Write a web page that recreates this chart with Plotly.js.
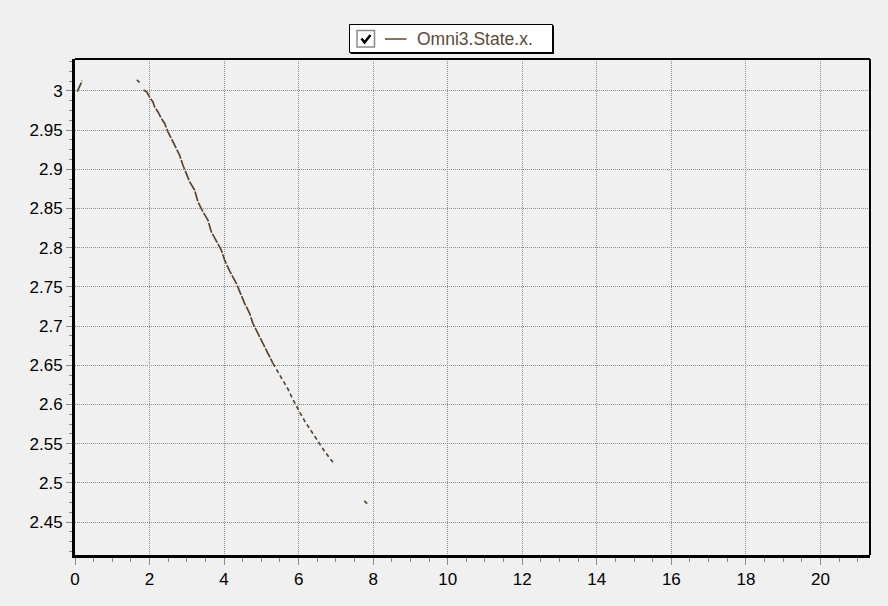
<!DOCTYPE html>
<html>
<head>
<meta charset="utf-8">
<script src="https://cdn.plot.ly/plotly-3.0.1.min.js"></script>
<style>
  html, body { margin: 0; padding: 0; background: #f0f0f0; }
  #chart { width: 888px; height: 606px; }
</style>
</head>
<body>
<div id="chart"></div>
<script>
// ---- data ----
const seriesName = "Omni3.State.x.";
const xValues = [
  0.059, 0.193, null,
  1.659, 1.732, null,
  1.839, 1.928, 2.019, 2.089, 2.134, 2.223, 2.314, 2.403, 2.491, 2.583,
  2.717, 2.805, 2.894, 3.028, 3.074, 3.208, 3.297, 3.431, 3.565, 3.656,
  3.791, 3.925, 4.013, 4.148, 4.328, 4.416, 4.550, 4.685, 4.773, 4.907,
  5.042, 5.176, 5.310, 5.444, 5.579, 5.713, 5.831, 5.919, 6.046, 6.161,
  6.277, 6.403, 6.537, 6.671, 6.805, 6.940, null,
  7.760, 7.860
];
const yValues = [
  2.9991, 3.0131, null,
  3.0140, 3.0111, null,
  3.0013, 2.9987, 2.9907, 2.9863, 2.9800, 2.9736, 2.9652, 2.9588, 2.9481, 2.9396,
  2.9269, 2.9183, 2.9056, 2.8906, 2.8843, 2.8737, 2.8587, 2.8460, 2.8354, 2.8204,
  2.8077, 2.7971, 2.7843, 2.7705, 2.7546, 2.7439, 2.7291, 2.7163, 2.7035, 2.6908,
  2.6780, 2.6653, 2.6525, 2.6418, 2.6299, 2.6197, 2.6078, 2.5993, 2.5887, 2.5790,
  2.5703, 2.5618, 2.5525, 2.5419, 2.5333, 2.5249, null,
  2.4770, 2.4725
];
const xTickVals = [0, 2, 4, 6, 8, 10, 12, 14, 16, 18, 20];
const xTickText = ["0", "2", "4", "6", "8", "10", "12", "14", "16", "18", "20"];
const yTickVals = [2.45, 2.5, 2.55, 2.6, 2.65, 2.7, 2.75, 2.8, 2.85, 2.9, 2.95, 3];
const yTickText = ["2.45", "2.5", "2.55", "2.6", "2.65", "2.7", "2.75", "2.8", "2.85", "2.9", "2.95", "3"];

// ---- layout helpers ----
const W = 888, H = 606;
const M = { l: 75, r: 18, t: 59, b: 51 };
const PW = W - M.l - M.r, PH = H - M.t - M.b;
const px = v => (v - M.l) / PW;        // pixel x -> paper x
const py = v => (H - M.b - v) / PH;    // pixel y -> paper y

const lineColor = "#5a4630";

// split series: upper part nearly solid, lower part dashed (as rendered in the reference)
let split = xValues.findIndex(v => v !== null && v >= 5.31);
const traceA = {
  x: xValues.slice(0, split + 1), y: yValues.slice(0, split + 1),
  type: "scatter", mode: "lines", name: seriesName, showlegend: false,
  connectgaps: false,
  line: { color: lineColor, width: 1.7, dash: "10px,1.5px" }
};
const traceB = {
  x: xValues.slice(split), y: yValues.slice(split),
  type: "scatter", mode: "lines", name: seriesName, showlegend: false,
  connectgaps: false,
  line: { color: lineColor, width: 1.7, dash: "4px,3px" }
};

const tickFont = { family: "Arial, 'Liberation Sans', sans-serif", size: 17, color: "#000" };

const layout = {
  width: W, height: H,
  margin: M,
  paper_bgcolor: "#f0f0f0",
  plot_bgcolor: "#f0f0f0",
  showlegend: false,
  xaxis: {
    range: [0, 21.33],
    tickmode: "array", tickvals: xTickVals, ticktext: xTickText,
    showgrid: true, gridcolor: "#8c8c8c", gridwidth: 1, griddash: "1px,1px",
    zeroline: false,
    showline: true, linecolor: "#000", linewidth: 3,
    ticks: "outside", ticklen: 7, tickwidth: 1, tickcolor: "#8a8a8a",
    tickfont: tickFont,
    minor: { dtick: 0.5, tick0: 0, ticks: "outside", ticklen: 4, tickwidth: 1, tickcolor: "#8a8a8a", showgrid: false }
  },
  yaxis: {
    range: [2.4079, 3.0408],
    tickmode: "array", tickvals: yTickVals, ticktext: yTickText,
    showgrid: true, gridcolor: "#8c8c8c", gridwidth: 1, griddash: "1px,1px",
    zeroline: false,
    showline: true, linecolor: "#000", linewidth: 3,
    ticks: "outside", ticklen: 6, tickwidth: 1, tickcolor: "#8a8a8a",
    tickfont: tickFont,
    minor: { dtick: 0.0125, tick0: 2.4, ticks: "outside", ticklen: 3, tickwidth: 1, tickcolor: "#8a8a8a", showgrid: false }
  },
  shapes: [
    // top and right borders of plot frame
    { type: "line", xref: "paper", yref: "paper", x0: 0, x1: 1, y0: 1, y1: 1, line: { color: "#000", width: 2 } },
    { type: "line", xref: "paper", yref: "paper", x0: 1, x1: 1, y0: 0, y1: 1, line: { color: "#000", width: 2 } },
    // legend box shadow + box
    { type: "rect", xref: "paper", yref: "paper", x0: px(350.5), x1: px(554), y0: py(54), y1: py(25.5),
      fillcolor: "#000", line: { width: 0 } },
    { type: "rect", xref: "paper", yref: "paper", x0: px(349.5), x1: px(552.5), y0: py(52.5), y1: py(24.5),
      fillcolor: "#ffffff", line: { color: "#000", width: 1 } },
    // checkbox
    { type: "rect", xref: "paper", yref: "paper", x0: px(357), x1: px(374.5), y0: py(47), y1: py(30.5),
      fillcolor: "#ffffff", line: { color: "#8a8a8a", width: 1.5 } },
    { type: "path", xref: "paper", yref: "paper",
      path: "M " + px(361.5) + " " + py(38.5) + " L " + px(364.5) + " " + py(42.5) + " L " + px(370.5) + " " + py(35),
      line: { color: "#000", width: 2.6 } },
    // legend line sample
    { type: "line", xref: "paper", yref: "paper", x0: px(385), x1: px(406.5), y0: py(39), y1: py(39),
      line: { color: lineColor, width: 1.5 } }
  ],
  annotations: [
    { xref: "paper", yref: "paper", x: px(415), y: py(39), xanchor: "left", yanchor: "middle",
      text: seriesName, showarrow: false,
      font: { family: "Arial, 'Liberation Sans', sans-serif", size: 17.5, color: "#5c4a38" } }
  ]
};

Plotly.newPlot("chart", [traceA, traceB], layout, { staticPlot: true, displayModeBar: false });
</script>
</body>
</html>
